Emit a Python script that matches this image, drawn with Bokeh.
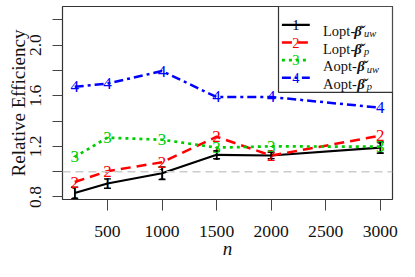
from bokeh.plotting import figure
from bokeh.models import (FixedTicker, Span, Whisker, ColumnDataSource, TeeHead,
                          Range1d, PrintfTickFormatter)
from bokeh.core.properties import value
from bokeh.embed import file_html
from bokeh.resources import INLINE

# ---- data ----
n = [200, 500, 1000, 1500, 2000, 3000]
lopt_uw = [0.832, 0.906, 0.987, 1.133, 1.128, 1.19]
lopt_uw_err = [0.045, 0.037, 0.05, 0.03, 0.025, 0.044]
lopt_p = [0.918, 1.004, 1.074, 1.276, 1.127, 1.284]
aopt_uw = [1.116, 1.269, 1.252, 1.19, 1.2, 1.197]
aopt_p = [1.671, 1.696, 1.795, 1.59, 1.59, 1.505]
x_ticks = [500, 1000, 1500, 2000, 2500, 3000]
y_ticks = [0.8, 1.2, 1.6, 2.0]
y_minor = [1.0, 1.4, 1.8, 2.2]
x_title = "n"
y_title = "Relative Efficiency"
legend_prefix = ["Lopt-", "Lopt-", "Aopt-", "Aopt-"]
legend_sub = ["uw", "p", "uw", "p"]
marks = ["1", "2", "3", "4"]

colors = ["#000000", "#FF0000", "#00CD00", "#0000FF"]
dashes = ["solid", "10 6", "3 4", "9 4 3 4"]
widths = [2.1, 2.5, 2.7, 2.5]

W, H = 399, 261
FL, FT, FR, FB = 62, 6, 7, 61
FW, FH = W - FL - FR, H - FT - FB
x0, x1 = 88, 3112
y0, y1 = 0.78, 0.78 + FH / 127.2

SERIF = "Liberation Serif"
TXT = "#111111"

p = figure(width=W, height=H, output_backend="svg", toolbar_location=None,
           x_range=Range1d(x0, x1), y_range=Range1d(y0, y1),
           min_border_left=FL, min_border_top=FT, min_border_right=FR,
           min_border_bottom=FB)
p.grid.visible = False
p.outline_line_color = "#333333"
p.outline_line_width = 1.2
p.background_fill_color = "white"
p.border_fill_color = "white"

# axes
p.xaxis.ticker = FixedTicker(ticks=x_ticks)
p.yaxis.ticker = FixedTicker(ticks=y_ticks, minor_ticks=y_minor)
p.yaxis.formatter = PrintfTickFormatter(format="%.1f")
for ax in (p.xaxis, p.yaxis):
    ax.axis_line_color = None
    ax.major_tick_in = 0
    ax.major_tick_line_color = "#444444"
    ax.major_label_text_font = SERIF
    ax.major_label_text_font_size = "17.6px"
    ax.major_label_text_color = TXT
    ax.axis_label_text_font = SERIF
    ax.axis_label_text_font_size = "19px"
    ax.axis_label_text_color = TXT
p.xaxis.major_tick_out = 11
p.xaxis.minor_tick_line_color = None
p.xaxis.major_label_standoff = 15
p.xaxis.axis_label = x_title
p.xaxis.axis_label_text_font_style = "italic"
p.xaxis.axis_label_standoff = -2
p.yaxis.major_tick_out = 10
p.yaxis.minor_tick_out = 10
p.yaxis.minor_tick_in = 0
p.yaxis.minor_tick_line_color = "#444444"
p.yaxis.major_label_orientation = "vertical"
p.yaxis.major_label_standoff = 11
p.yaxis.axis_label = y_title
p.yaxis.axis_label_text_font_style = "normal"
p.yaxis.axis_label_standoff = -1

# reference line
p.add_layout(Span(location=1.0, dimension="width", line_color="#cccccc",
                  line_dash="8 5", line_width=1.5))

series = [lopt_uw, lopt_p, aopt_uw, aopt_p]
for ys, c, d, w in zip(series, colors, dashes, widths):
    p.line(n, ys, line_color=c, line_dash=d, line_width=w)

# error bars for the first series
lo = [v - e for v, e in zip(lopt_uw, lopt_uw_err)]
hi = [v + e for v, e in zip(lopt_uw, lopt_uw_err)]
src = ColumnDataSource(dict(x=n, lo=lo, hi=hi))
p.add_layout(Whisker(source=src, base="x", lower="lo", upper="hi",
                     line_color="black", line_width=1.4,
                     upper_head=TeeHead(size=7, line_width=1.4, line_color="black"),
                     lower_head=TeeHead(size=7, line_width=1.4, line_color="black")))

for ys, c, m in zip(series, colors, marks):
    p.text(n, ys, text=[m] * len(n), text_color=c, text_font=value(SERIF),
           text_font_size="17px", text_align="center", text_baseline="middle")


# ---- manual legend (figure-pixel positions converted to data units) ----
def X(px):
    return x0 + (px - FL) * (x1 - x0) / FW


def Y(py):
    return y1 - (py - FT) * (y1 - y0) / FH


p.quad(left=[X(278)], right=[X(FL + FW)], top=[Y(FT)], bottom=[Y(92.3)],
       fill_color="white", line_color="#333333", line_width=1.2)

rows = [24.5, 42.2, 59.9, 77.6]
text_x = [322.5, 322.5, 322.5, 322.5]
beta_x = [353.8, 353.8, 356.7, 356.7]
for i in range(4):
    ry = rows[i]
    p.line([X(281.4), X(309.3)], [Y(ry), Y(ry)], line_color=colors[i],
           line_dash=dashes[i], line_width=widths[i])
    p.text([X(295.3)], [Y(ry)], text=[marks[i]], text_color=colors[i],
           text_font=value(SERIF), text_font_size="14.5px", text_align="center",
           text_baseline="middle")
    p.text([X(text_x[i])], [Y(ry + 6.2)], text=[legend_prefix[i]], text_color=TXT,
           text_font=value(SERIF), text_font_size="14.5px", text_baseline="alphabetic")
    p.text([X(beta_x[i])], [Y(ry + 6.2)], text=["\u03b2\u030c"], text_color=TXT,
           text_font=value(SERIF), text_font_size="14.5px", text_font_style="bold italic",
           text_baseline="alphabetic")
    p.text([X(beta_x[i] + 9.6)], [Y(ry + 9)], text=[legend_sub[i]], text_color=TXT,
           text_font=value(SERIF), text_font_size="10.5px", text_font_style="italic",
           text_baseline="alphabetic")

open("out.html", "w").write(file_html(p, INLINE))
